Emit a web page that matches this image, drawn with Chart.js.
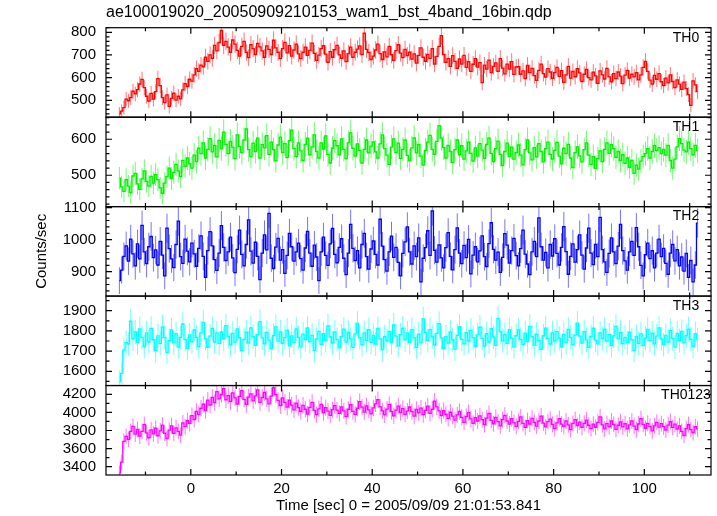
<!DOCTYPE html>
<html>
<head>
<meta charset="utf-8">
<script src="https://cdn.jsdelivr.net/npm/chart.js@4.4.1/dist/chart.umd.min.js"></script>
<style>
  html, body { margin: 0; padding: 0; background: #fff; }
  #wrap { width: 717px; height: 516px; }
</style>
</head>
<body>
<div id="wrap"><canvas id="lc" width="717" height="516"></canvas></div>
<script>
// qdp light curve, 0.5 s bins starting at t = -16 s
const fileTitle = 'ae100019020_20050909210153_wam1_bst_4band_16bin.qdp';
const xTitle = 'Time [sec] 0 = 2005/09/09 21:01:53.841';
const yTitle = 'Counts/sec';
const bandNames = ['TH0', 'TH1', 'TH2', 'TH3', 'TH0123'];
const tStart = -16;
const binSize = 0.5;

const th0 = [
  440, 452, 468, 505, 498, 512, 540, 528, 547, 572, 592, 556, 518, 497, 531, 505,
  538, 596, 565, 512, 490, 524, 473, 509, 532, 501, 518, 506, 546, 574, 561, 593,
  585, 612, 640, 628, 655, 648, 690, 672, 700, 685, 742, 718, 755, 808, 742, 760,
  735, 712, 766, 748, 720, 695, 738, 760, 712, 688, 745, 728, 702, 751, 736, 718,
  690, 740, 725, 702, 765, 731, 712, 684, 728, 756, 709, 741, 695, 722, 748, 705,
  684, 712, 735, 698, 720, 752, 707, 676, 699, 728, 741, 704, 668, 715, 690, 723,
  742, 700, 685, 718, 671, 706, 735, 690, 712, 726, 740, 702, 796, 725, 711, 680,
  695, 722, 748, 706, 680, 714, 692, 738, 701, 676, 719, 745, 708, 688, 725, 697,
  712, 682, 705, 664, 698, 731, 690, 672, 703, 685, 728, 660, 694, 738, 785, 702,
  668, 684, 650, 697, 672, 641, 683, 660, 698, 645, 671, 628, 659, 684, 646, 666,
  578, 655, 638, 677, 622, 650, 665, 628, 684, 642, 617, 660, 638, 671, 614, 647,
  648, 615, 630, 596, 654, 622, 641, 609, 588, 632, 660, 618, 602, 640, 625, 597,
  622, 645, 606, 631, 579, 612, 650, 598, 627, 604, 640, 621, 583, 615, 636, 600,
  590, 624, 608, 575, 630, 612, 594, 641, 603, 582, 618, 596, 625, 607, 574, 611,
  632, 598, 615, 603, 622, 590, 612, 645, 672, 628, 589, 571, 610, 593, 618, 582,
  565, 598, 577, 612, 583, 556, 590, 571, 548, 580, 552, 525, 478, 586, 568, 538
];
const th1 = [
  492, 468, 455, 488, 470, 452, 498, 505, 476, 461, 490, 512, 483, 470, 497, 478,
  502, 488, 465, 450, 478, 496, 520, 491, 508, 530, 512, 496, 541, 525, 548, 532,
  520, 556, 538, 575, 560, 590, 548, 572, 602, 565, 583, 551, 597, 574, 620, 586,
  560, 594, 578, 546, 612, 580, 563, 598, 629, 571, 552, 589, 566, 603, 548, 585,
  576, 610, 558, 592, 571, 540, 584, 606, 563, 588, 549, 596, 625, 574, 552, 590,
  568, 541, 586, 603, 557, 579, 612, 566, 548, 590, 573, 609, 558, 534, 575, 596,
  582, 557, 601, 572, 546, 590, 618, 575, 553, 587, 569, 534, 572, 598, 562, 581,
  593, 565, 548, 587, 612, 574, 556, 530, 578, 601, 563, 589, 547, 572, 598, 555,
  541, 576, 604, 562, 585, 553, 528, 569, 592, 611, 572, 558, 594, 638, 603, 577,
  548, 583, 566, 535, 571, 598, 557, 582, 545, 568, 592, 561, 539, 576, 553, 588,
  570, 547, 586, 603, 561, 538, 574, 595, 558, 527, 566, 589, 552, 578, 545, 563,
  584, 556, 529, 571, 598, 562, 543, 577, 551, 588, 566, 537, 574, 592, 558, 545,
  569, 591, 553, 532, 575, 560, 586, 548, 521, 563, 579, 554, 537, 571, 590, 556,
  530, 552, 519, 546, 568, 538, 572, 590, 561, 585, 574, 550, 566, 541, 557, 533,
  548, 522, 541, 505, 528, 517, 539, 552, 560, 574, 548, 566, 582, 569, 577, 560,
  572, 556, 583, 541, 520, 545, 579, 602, 588, 570, 565, 592, 574, 557, 583, 568
];
const th2 = [
  872, 905, 948, 981, 933, 1002, 956, 918, 987, 940, 1045, 962, 925, 978, 1010, 944,
  968, 921, 995, 952, 887, 1036, 972, 940, 913, 985, 1058, 947, 926, 1002, 964, 931,
  989, 956, 917, 973, 1012, 948, 882, 966, 1025, 981, 938, 904, 958, 1044, 976, 935,
  962, 1008, 943, 897, 970, 1030, 954, 918, 985, 1062, 964, 927, 992, 948, 875, 958,
  1015, 968, 1082, 942, 910, 977, 1004, 936, 969, 895, 951, 1020, 978, 933, 962, 989,
  941, 905, 974, 1026, 958, 917, 983, 946, 872, 962, 1008, 951, 920, 987, 1035, 954,
  928, 976, 1003, 942, 891, 958, 1048, 973, 935, 966, 912, 985, 1020, 947, 908, 971,
  996, 954, 921, 1064, 980, 938, 902, 962, 1011, 945, 976, 929, 887, 957, 993, 1040,
  962, 924, 981, 947, 1006, 868, 942, 975, 1028, 951, 1090, 967, 930, 984, 943, 912,
  975, 1022, 948, 906, 969, 1037, 958, 925, 982, 944, 1001, 893, 952, 978, 931, 965,
  1012, 947, 916, 988, 1053, 970, 936, 961, 898, 945, 1019, 983, 927, 966, 1004, 950,
  918, 972, 1030, 955, 924, 891, 962, 995, 947, 1068, 978, 936, 960, 912, 985, 949,
  1003, 957, 921, 976, 1041, 963, 892, 948, 987, 930, 969, 1015, 952, 908, 974, 1036,
  958, 922, 985, 947, 1070, 969, 931, 898, 957, 1006, 962, 925, 980, 1048, 966, 934,
  905, 962, 995, 951, 1038, 978, 920, 887, 953, 989, 941, 966, 912, 958, 1002, 947,
  973, 926, 892, 958, 985, 934, 969, 918, 946, 902, 957, 882, 935, 868, 921, 1052
];
const th3 = [
  1548, 1590, 1705, 1742, 1735, 1848, 1760, 1795, 1742, 1810, 1768, 1722, 1790, 1745, 1812, 1756,
  1702, 1775, 1738, 1820, 1768, 1694, 1752, 1805, 1741, 1786, 1720, 1768, 1834, 1757, 1712, 1780,
  1746, 1805, 1768, 1723, 1790, 1842, 1762, 1718, 1774, 1812, 1745, 1790, 1738, 1795, 1760, 1826,
  1772, 1731, 1788, 1745, 1810, 1766, 1703, 1758, 1794, 1740, 1815, 1772, 1728, 1781, 1846, 1765,
  1736, 1792, 1754, 1712, 1778, 1820, 1749, 1795, 1738, 1767, 1804, 1726, 1775, 1742, 1810, 1768,
  1721, 1784, 1757, 1815, 1746, 1778, 1702, 1760, 1798, 1733, 1786, 1752, 1825, 1771, 1740, 1795,
  1757, 1716, 1773, 1808, 1745, 1792, 1760, 1718, 1785, 1837, 1766, 1731, 1790, 1752, 1806, 1743,
  1778, 1735, 1812, 1760, 1707, 1771, 1750, 1798, 1742, 1829, 1774, 1726, 1781, 1813, 1755, 1790,
  1742, 1806, 1765, 1718, 1784, 1741, 1859, 1792, 1753, 1806, 1771, 1729, 1788, 1836, 1765, 1714,
  1772, 1739, 1794, 1756, 1710, 1778, 1821, 1758, 1736, 1791, 1749, 1803, 1767, 1724, 1780, 1818,
  1763, 1725, 1786, 1745, 1811, 1770, 1728, 1862, 1795, 1751, 1782, 1738, 1806, 1764, 1721, 1776,
  1805, 1758, 1733, 1789, 1747, 1822, 1771, 1729, 1784, 1752, 1708, 1776, 1814, 1761, 1735, 1790,
  1750, 1796, 1764, 1720, 1783, 1742, 1807, 1768, 1731, 1779, 1838, 1774, 1739, 1796, 1755, 1718,
  1772, 1813, 1754, 1736, 1790, 1762, 1808, 1749, 1781, 1727, 1775, 1822, 1760, 1792, 1737, 1768,
  1741, 1794, 1756, 1703, 1772, 1738, 1785, 1727, 1764, 1807, 1752, 1789, 1736, 1774, 1815, 1760,
  1732, 1778, 1745, 1801, 1762, 1720, 1788, 1752, 1797, 1741, 1776, 1809, 1758, 1724, 1786, 1757
];
const th0123 = [
  3330, 3450, 3680, 3735, 3702, 3790, 3845, 3760, 3812, 3738, 3790, 3865, 3774, 3720, 3808, 3762,
  3826, 3742, 3795, 3860, 3770, 3712, 3804, 3852, 3768, 3830, 3790, 3748, 3885, 3842, 3910, 3878,
  3965, 3922, 4012, 3978, 4046, 4090, 4020, 4135, 4082, 4165, 4108, 4230, 4150, 4198, 4262, 4140,
  4185, 4120, 4215, 4160, 4092, 4178, 4240, 4145, 4088, 4170, 4205, 4128, 4182, 4248, 4110, 4165,
  4222, 4150, 4095, 4180, 4275, 4198, 4132, 4075, 4160, 4112, 4058, 4135, 4080, 4028, 4102, 4054,
  4010, 4078, 4035, 3982, 4056, 4110, 4022, 3975, 4040, 4088, 3996, 4052, 4015, 3968, 4030, 4075,
  4025, 3990, 4062, 4018, 3955, 4035, 4085, 4012, 3978, 4046, 4120, 4058, 4004, 4072, 4028, 3985,
  4050, 4095, 4140, 4062, 4018, 3972, 4036, 4088, 4010, 3962, 4025, 4070, 3998, 4042, 3980, 4015,
  4060, 4008, 3958, 4032, 3995, 4048, 3976, 4022, 4070, 3990, 4035, 4125, 4062, 4018, 3965, 4020,
  3980, 3935, 4002, 3958, 3915, 3972, 4010, 3946, 3890, 3955, 3998, 3928, 3880, 3942, 3905, 3962,
  3920, 3865, 3938, 3990, 3912, 3875, 3945, 3898, 3852, 3920, 3968, 3905, 3870, 3932, 3888, 3845,
  3902, 3950, 3878, 3835, 3910, 3872, 3935, 3890, 3848, 3905, 3960, 3882, 3840, 3898, 3925, 3868,
  3820, 3885, 3932, 3870, 3845, 3905, 3862, 3810, 3878, 3920, 3855, 3892, 3836, 3880, 3915, 3858,
  3822, 3870, 3835, 3890, 3950, 3862, 3818, 3876, 3842, 3905, 3868, 3812, 3858, 3895, 3840, 3875,
  3818, 3862, 3905, 3848, 3810, 3872, 3930, 3868, 3825, 3880, 3846, 3795, 3852, 3890, 3838, 3876,
  3842, 3805, 3860, 3898, 3835, 3870, 3815, 3852, 3790, 3745, 3820, 3865, 3810, 3778, 3842, 3818
];

// axis ranges and tick labels
const xRange = [-18.7, 114.7];
const xTickLabels = [0, 20, 40, 60, 80, 100];
const yRanges = [[425.7, 820.3], [412.9, 661.4], [823.8, 1103.4], [1529.4, 1972.3], [3308.5, 4297]];
const yTickLabels = [
  [500, 600, 700, 800],
  [500, 600],
  [900, 1000, 1100],
  [1600, 1700, 1800, 1900],
  [3400, 3600, 3800, 4000, 4200]
];
const yMinorSteps = [20, 20, 20, 50, 100];
const bandValues = [th0, th1, th2, th3, th0123];
const bandColors = ['#ff0000', '#00f000', '#0000ff', '#00ffff', '#ff00ff'];

const FONT = '"Liberation Sans", Arial, Helvetica, sans-serif';

function rgba(hex, a) {
  const n = parseInt(hex.slice(1), 16);
  return `rgba(${n >> 16},${(n >> 8) & 255},${n & 255},${a})`;
}

const datasets = [];
bandNames.forEach((name, i) => {
  const vals = bandValues[i];
  const line = vals.map((v, k) => ({ x: tStart + binSize * (k + 0.5), y: v }));
  const bars = [];
  vals.forEach((v, k) => {
    const t = tStart + binSize * (k + 0.5);
    const e = Math.sqrt(v / binSize); // counting error of the bin
    bars.push({ x: t, y: v - e }, { x: t, y: v + e }, { x: t, y: null });
  });
  datasets.push({
    data: bars, yAxisID: 'y' + name, borderColor: rgba(bandColors[i], 0.55),
    borderWidth: 1, pointRadius: 0, spanGaps: false, tension: 0
  });
  datasets.push({
    data: line, yAxisID: 'y' + name, borderColor: bandColors[i],
    borderWidth: 1.3, pointRadius: 0, stepped: 'middle', tension: 0
  });
});

const tickFont = { family: FONT, size: 15 };
const plainLabel = v => String(v);

const scales = {
  x: {
    type: 'linear', min: xRange[0], max: xRange[1],
    afterBuildTicks: s => { s.ticks = xTickLabels.map(v => ({ value: v })); },
    afterFit: s => { s.height = 41; },
    grid: { display: false, drawTicks: false }, border: { display: false },
    ticks: { color: '#000', font: tickFont, padding: 5, maxRotation: 0, autoSkip: false, callback: plainLabel },
    title: { display: true, text: xTitle, color: '#000', font: tickFont, padding: { top: 0, bottom: 1 } }
  }
};
// bottom panel first: stacked left axes are laid out from the last one at the top
for (let i = bandNames.length - 1; i >= 0; i--) {
  scales['y' + bandNames[i]] = {
    type: 'linear', position: 'left', stack: 'bands', stackWeight: 1,
    min: yRanges[i][0], max: yRanges[i][1],
    afterBuildTicks: s => { s.ticks = yTickLabels[i].map(v => ({ value: v })); },
    afterFit: s => { s.width = 106; },
    grid: { display: false, drawTicks: false }, border: { display: false },
    ticks: { color: '#000', font: tickFont, padding: 10, autoSkip: false, callback: plainLabel },
    title: { display: i === 2, text: yTitle, color: '#000', font: tickFont, padding: { top: 33, bottom: 0 } }
  };
}

const framePlugin = {
  id: 'qdpFrame',
  beforeDatasetDraw(chart, args) {
    const ys = chart.scales[args.meta.yAxisID];
    const a = chart.chartArea, ctx = chart.ctx;
    ctx.save();
    ctx.beginPath();
    ctx.rect(a.left, ys.top, a.right - a.left, ys.bottom - ys.top);
    ctx.clip();
  },
  afterDatasetDraw(chart) { chart.ctx.restore(); },
  afterDraw(chart) {
    const ctx = chart.ctx, a = chart.chartArea, xs = chart.scales.x;
    ctx.save();
    ctx.strokeStyle = '#000';
    ctx.lineWidth = 1.2;
    bandNames.forEach((name, i) => {
      const ys = chart.scales['y' + name];
      ctx.strokeRect(a.left, ys.top, a.right - a.left, ys.bottom - ys.top);
      ctx.beginPath();
      const step = yMinorSteps[i];
      for (let v = Math.ceil(ys.min / step) * step; v <= ys.max; v += step) {
        const y = ys.getPixelForValue(v);
        const len = yTickLabels[i].includes(v) ? 6 : 3.5;
        ctx.moveTo(a.left, y); ctx.lineTo(a.left + len, y);
        ctx.moveTo(a.right, y); ctx.lineTo(a.right - len, y);
      }
      for (let t = -10; t <= xRange[1]; t += 10) {
        const x = xs.getPixelForValue(t);
        const len = t % 20 === 0 ? 6 : 3.5;
        ctx.moveTo(x, ys.top); ctx.lineTo(x, ys.top + len);
        ctx.moveTo(x, ys.bottom); ctx.lineTo(x, ys.bottom - len);
      }
      ctx.stroke();
      ctx.fillStyle = '#000';
      ctx.font = '14px ' + FONT;
      ctx.textAlign = 'center';
      ctx.textBaseline = 'middle';
      ctx.fillText(name, a.right - 25, ys.top + 10);
    });
    ctx.restore();
  }
};

new Chart(document.getElementById('lc'), {
  type: 'line',
  data: { datasets },
  options: {
    responsive: false, animation: false, devicePixelRatio: 1,
    layout: { padding: { left: 0, right: 6, top: 0, bottom: 0 } },
    plugins: {
      legend: { display: false }, tooltip: { enabled: false },
      title: {
        display: true, text: fileTitle, align: 'start', fullSize: false, color: '#000',
        font: { family: FONT, size: 16, weight: 'normal' }, padding: { top: 3, bottom: 5.5 }
      }
    },
    scales
  },
  plugins: [framePlugin]
});
</script>
</body>
</html>
